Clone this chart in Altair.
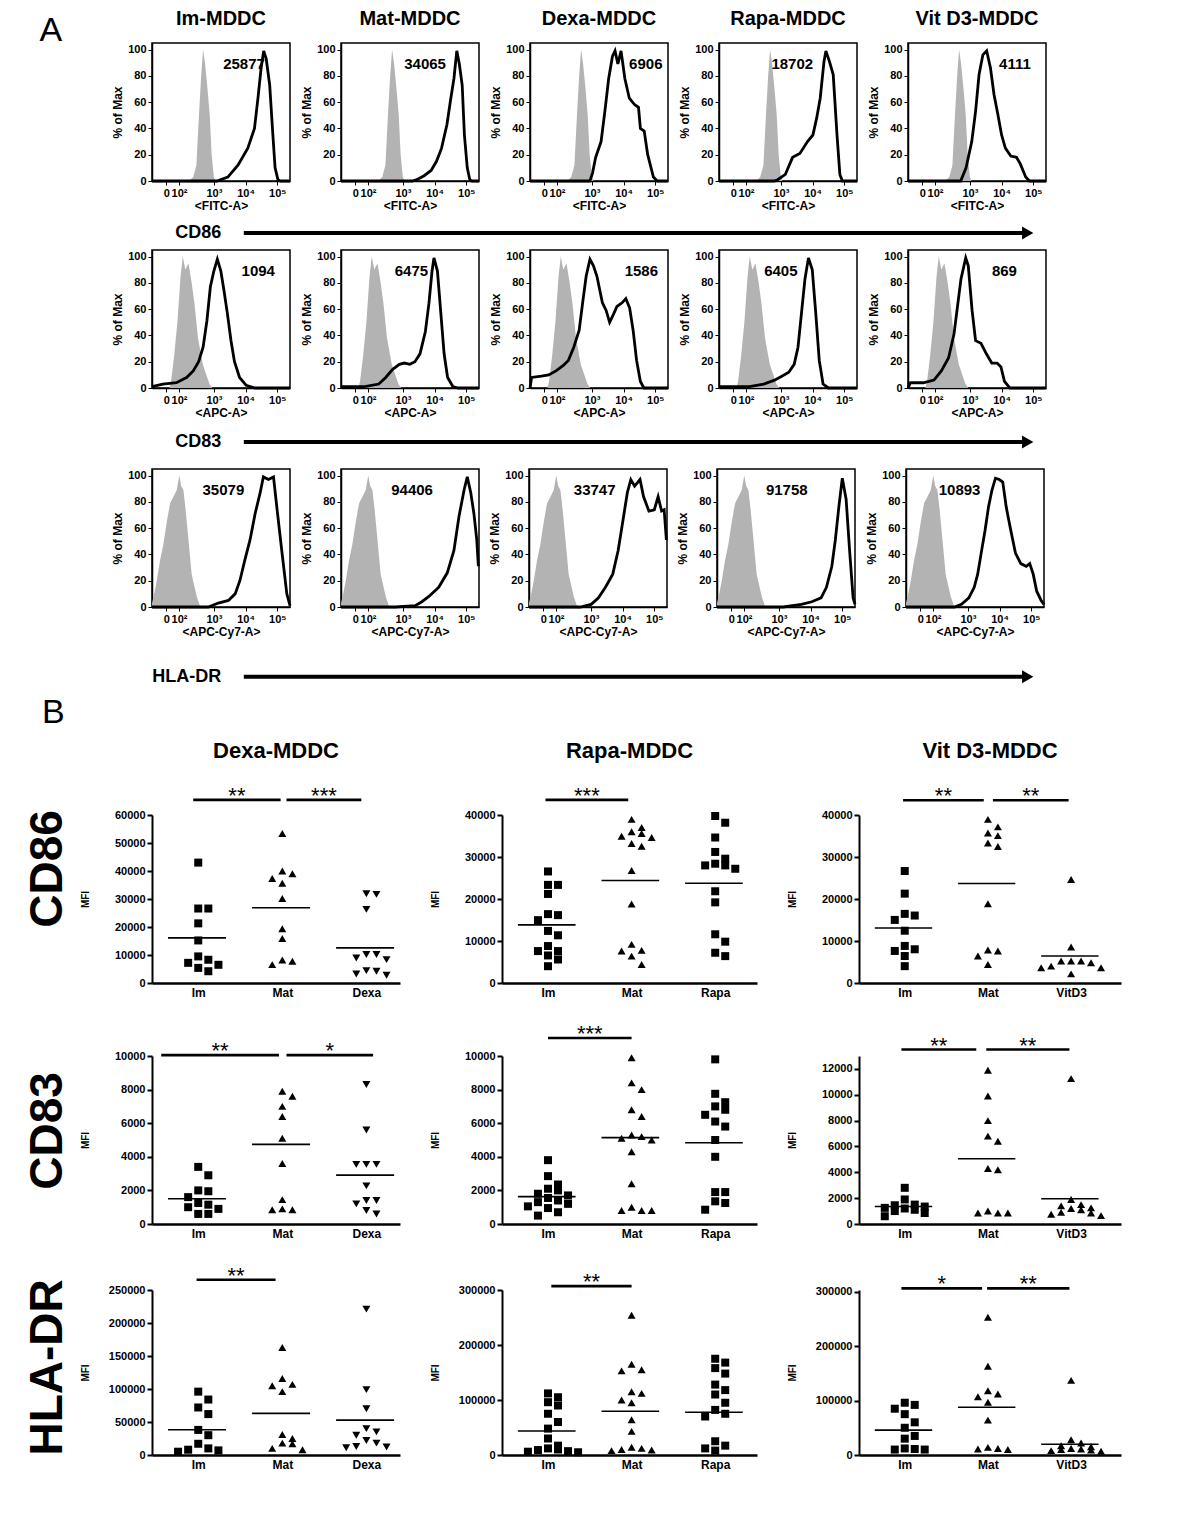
import altair as alt
import pandas as pd

FONT = "Liberation Sans"

# ======================= Panel A : flow-cytometry histograms =======================
# x is in display units of the biexponential axis: 10^3 -> 3, 10^4 -> 4, 10^5 -> 5
HIST_TITLES = ["Im-MDDC", "Mat-MDDC", "Dexa-MDDC", "Rapa-MDDC", "Vit D3-MDDC"]
HIST_XTITLES = ["<FITC-A>", "<APC-A>", "<APC-Cy7-A>"]
ARROW_LABELS = ["CD86", "CD83", "HLA-DR"]
HIST_X_TICKS = [1.5, 1.9, 3, 4, 5]
HIST_X_TICK_LABELS = ["0", "10²", "10³", "10⁴", "10⁵"]
HIST_Y_TICKS = [0, 20, 40, 60, 80, 100]

PEAK_MFI = [
    ["25877", "34065", "6906", "18702", "4111"],
    ["1094", "6475", "1586", "6405", "869"],
    ["35079", "94406", "33747", "91758", "10893"],
]
PEAK_MFI_POS = [
    [3.95, 3.7, 4.7, 3.36, 4.42],
    [4.4, 3.27, 4.56, 3.0, 4.09],
    [3.3, 3.29, 3.12, 3.25, 2.74],
]

# isotype controls (grey filled), one per marker row: [x, % of max]
GRAY_FITC = [[2.22, 0], [2.35, 3], [2.45, 12], [2.53, 50], [2.6, 80], [2.66, 100], [2.72, 90],
             [2.8, 70], [2.87, 50], [2.93, 20], [3.0, 3], [3.05, 0]]
GRAY_APC = [[1.6, 0], [1.65, 5], [1.75, 25], [1.85, 50], [1.95, 85], [2.02, 100], [2.1, 90],
            [2.2, 95], [2.3, 80], [2.39, 64], [2.5, 38], [2.65, 18], [2.86, 3], [2.95, 0]]
GRAY_CY7 = [[1.05, 3], [1.12, 10], [1.2, 20], [1.3, 35], [1.41, 48], [1.51, 64], [1.62, 79],
            [1.75, 85], [1.83, 89], [1.91, 100], [1.97, 92], [2.04, 89], [2.11, 74], [2.2, 51],
            [2.3, 25], [2.46, 8], [2.56, 1], [2.62, 0]]

# stained samples (black lines)
FITC_IM = [[1.05, 0], [3.1, 0], [3.44, 3], [3.76, 12], [4.07, 25], [4.28, 40], [4.39, 63], [4.49, 86],
           [4.57, 99], [4.65, 93], [4.76, 73], [4.86, 35], [4.93, 10], [5.02, 1], [5.1, 0], [5.4, 0]]
FITC_MAT = [[1.05, 0], [3.3, 0], [3.44, 1], [3.67, 4], [3.89, 8], [4.06, 15], [4.22, 25], [4.39, 43],
            [4.5, 61], [4.61, 78], [4.7, 99], [4.78, 89], [4.87, 73], [4.94, 35], [5.03, 10], [5.11, 1],
            [5.17, 0], [5.4, 0]]
FITC_DEXA = [[1.05, 0], [2.94, 0], [3.02, 6], [3.12, 18], [3.29, 30], [3.41, 53], [3.53, 78], [3.65, 95],
             [3.73, 99], [3.82, 89], [3.92, 99], [4.04, 78], [4.18, 63], [4.35, 58], [4.47, 56], [4.53, 40],
             [4.65, 38], [4.76, 20], [4.94, 3], [5.06, 0], [5.4, 0]]
FITC_RAPA = [[1.05, 0], [2.8, 0], [2.9, 1], [3.14, 5], [3.37, 18], [3.6, 21], [3.84, 30], [4.01, 35],
             [4.13, 48], [4.24, 63], [4.36, 91], [4.42, 99], [4.53, 91], [4.65, 81], [4.77, 35], [4.86, 5],
             [4.94, 0], [5.4, 0]]
FITC_VIT = [[1.05, 0], [2.71, 0], [2.88, 10], [3.06, 30], [3.18, 53], [3.29, 81], [3.41, 96], [3.53, 99],
            [3.65, 86], [3.76, 66], [3.88, 51], [4.0, 35], [4.12, 25], [4.29, 19], [4.47, 18], [4.59, 13],
            [4.76, 3], [4.88, 0], [5.4, 0]]

APC_IM = [[1.05, 1], [1.39, 3], [1.82, 4], [2.14, 8], [2.35, 13], [2.52, 20], [2.66, 31], [2.78, 51],
          [2.89, 77], [3.0, 89], [3.11, 98], [3.22, 89], [3.32, 74], [3.43, 56], [3.54, 36], [3.65, 20],
          [3.81, 8], [4.02, 2], [4.29, 0], [5.4, 0]]
APC_MAT = [[1.05, 1], [1.8, 1], [2.24, 3], [2.46, 8], [2.67, 14], [2.89, 18], [3.05, 19], [3.22, 18],
           [3.38, 20], [3.54, 26], [3.71, 43], [3.82, 64], [3.92, 89], [3.98, 99], [4.09, 89], [4.2, 56],
           [4.3, 26], [4.41, 8], [4.58, 1], [4.74, 0], [5.4, 0]]
APC_DEXA = [[1.05, 0], [1.1, 8], [1.41, 9], [1.64, 10], [1.87, 13], [2.09, 17], [2.26, 21], [2.43, 31],
            [2.6, 44], [2.71, 65], [2.82, 85], [2.94, 98], [3.05, 93], [3.16, 85], [3.33, 65], [3.45, 59],
            [3.56, 50], [3.68, 56], [3.79, 62], [3.96, 65], [4.07, 68], [4.19, 61], [4.3, 44], [4.41, 21],
            [4.53, 5], [4.64, 0], [5.4, 0]]
APC_RAPA = [[1.05, 1], [2.01, 1], [2.46, 3], [2.8, 6], [3.03, 9], [3.25, 12], [3.42, 18], [3.54, 31],
            [3.65, 57], [3.76, 83], [3.87, 99], [3.99, 90], [4.1, 57], [4.21, 21], [4.33, 3], [4.5, 0],
            [5.4, 0]]
APC_VIT = [[1.05, 0], [1.13, 4], [1.53, 4], [1.87, 6], [2.1, 13], [2.33, 23], [2.5, 41], [2.61, 62],
           [2.72, 83], [2.87, 99], [2.95, 93], [3.07, 59], [3.18, 36], [3.35, 34], [3.52, 26], [3.69, 19],
           [3.86, 19], [3.98, 16], [4.09, 5], [4.26, 0], [5.4, 0]]

CY7_IM = [[1.05, 0], [2.83, 0], [3.14, 3], [3.46, 5], [3.67, 10], [3.82, 20], [3.98, 36], [4.14, 51],
          [4.3, 71], [4.46, 87], [4.56, 99], [4.72, 97], [4.88, 99], [4.98, 77], [5.14, 43], [5.3, 10],
          [5.4, 1]]
CY7_MAT = [[1.05, 0], [2.76, 0], [3.39, 1], [3.6, 4], [3.82, 8], [4.13, 15], [4.4, 26], [4.61, 43],
           [4.77, 69], [4.93, 89], [5.03, 99], [5.14, 87], [5.24, 71], [5.33, 51], [5.38, 31]]
CY7_DEXA = [[1.05, 0], [2.67, 0], [3.01, 2], [3.24, 7], [3.46, 15], [3.69, 25], [3.86, 43], [3.98, 61],
            [4.15, 87], [4.26, 97], [4.38, 92], [4.55, 97], [4.66, 84], [4.83, 73], [5.0, 74], [5.12, 84],
            [5.23, 73], [5.31, 74], [5.38, 51]]
CY7_RAPA = [[1.05, 0], [3.14, 0], [3.71, 2], [4.04, 4], [4.33, 7], [4.5, 15], [4.67, 31], [4.78, 51],
            [4.89, 76], [5.0, 98], [5.12, 82], [5.23, 43], [5.34, 7], [5.4, 2]]
CY7_VIT = [[1.05, 0], [2.58, 0], [2.8, 2], [3.03, 7], [3.2, 15], [3.31, 25], [3.42, 41], [3.54, 58],
           [3.65, 76], [3.76, 89], [3.87, 98], [3.99, 97], [4.1, 95], [4.21, 76], [4.33, 61], [4.5, 41],
           [4.67, 33], [4.84, 31], [4.95, 33], [5.06, 25], [5.17, 12], [5.31, 5], [5.4, 2]]

GRAYS = [GRAY_FITC, GRAY_APC, GRAY_CY7]
BLACKS = [
    [FITC_IM, FITC_MAT, FITC_DEXA, FITC_RAPA, FITC_VIT],
    [APC_IM, APC_MAT, APC_DEXA, APC_RAPA, APC_VIT],
    [CY7_IM, CY7_MAT, CY7_DEXA, CY7_RAPA, CY7_VIT],
]

# ======================= Panel B : MFI dot plots =======================
B_TITLES = ["Dexa-MDDC", "Rapa-MDDC", "Vit D3-MDDC"]
B_ROW_LABELS = ["CD86", "CD83", "HLA-DR"]
GROUPS = [["Im", "Mat", "Dexa"], ["Im", "Mat", "Rapa"], ["Im", "Mat", "VitD3"]]

CD86_DEXA = [
    [43000, 26600, 26600, 21300, 15200, 9500, 8300, 7200, 6500, 5400, 4200],
    [53400, 40000, 39000, 37300, 35600, 30200, 19350, 15900, 8240, 7770, 6570],
    [31900, 31660, 26300, 10160, 10160, 8960, 8360, 4420, 4180, 3230, 2750],
]
CD86_RAPA = [
    [26560, 23360, 23360, 21200, 16400, 16160, 14960, 12400, 11360, 8800, 7600, 7600, 6560, 5600, 4000],
    [38960, 37040, 36000, 35600, 34960, 34640, 33200, 32560, 26800, 18800, 9200, 7760, 7600, 6400, 4400],
    [39760, 38160, 34640, 31200, 29600, 28400, 28000, 28000, 27200, 21840, 19200, 11600, 9840, 7200, 6400],
]
CD86_VIT = [
    [26660, 21280, 16460, 16060, 15020, 12450, 8830, 8030, 7630, 6420, 4010],
    [38950, 37180, 35730, 35090, 33320, 32520, 18870, 7870, 7630, 6420, 4420],
    [24650, 8590, 5220, 5220, 5220, 4820, 4015, 3610, 3610, 2170],
]
CD83_DEXA = [
    [3400, 2900, 2000, 1950, 1600, 1250, 1150, 1000, 900, 600, 600],
    [7900, 7600, 7000, 6400, 5100, 3600, 1450, 900, 850, 850],
    [8300, 5600, 3550, 3550, 3550, 2270, 1400, 1400, 1200, 800, 600],
]
CD83_RAPA = [
    [3800, 2850, 2350, 2100, 2000, 1800, 1700, 1550, 1400, 1300, 1200, 1050, 950, 700, 500],
    [9900, 8400, 8000, 6800, 6400, 5300, 5200, 5100, 5000, 4300, 2400, 1000, 800, 800, 800],
    [9800, 7750, 7250, 7000, 6800, 6500, 6100, 5800, 5000, 4000, 1900, 1900, 1350, 1250, 850],
]
CD83_VIT = [
    [2800, 1900, 1500, 1450, 1350, 1250, 1200, 1100, 1000, 850, 600],
    [11900, 9900, 8000, 6800, 6400, 4300, 4200, 1000, 850, 850, 850],
    [11250, 1900, 1500, 1400, 1250, 1200, 1100, 900, 850, 750, 650],
]
HLA_DEXA = [
    [96000, 84000, 72000, 62000, 38000, 30000, 17000, 10000, 8000, 7000, 5000],
    [163000, 116000, 107000, 105000, 96000, 31000, 25000, 18000, 17000, 10000, 8000],
    [221000, 99000, 70000, 40000, 35000, 30000, 22000, 18000, 13000, 12000, 11000],
]
HLA_RAPA = [
    [112000, 105000, 96000, 90000, 75000, 60000, 48000, 30000, 17000, 12000, 10000, 9000, 7000, 6000, 5000],
    [254000, 165000, 155000, 153000, 115000, 112000, 100000, 95000, 64000, 43000, 14000, 12000, 10000, 9000, 8000],
    [175000, 168000, 158000, 148000, 128000, 118000, 110000, 95000, 82000, 75000, 70000, 25000, 17000, 12000, 8000],
]
HLA_VIT = [
    [96000, 92000, 85000, 75000, 60000, 50000, 35000, 30000, 12000, 11000, 10000, 10000],
    [253000, 163000, 118000, 112000, 107000, 97000, 64000, 14000, 12000, 11000, 10000],
    [137000, 28000, 22000, 17000, 15000, 12000, 11000, 10000, 9000, 8000, 7000],
]
DOT_DATA = [[CD86_DEXA, CD86_RAPA, CD86_VIT],
            [CD83_DEXA, CD83_RAPA, CD83_VIT],
            [HLA_DEXA, HLA_RAPA, HLA_VIT]]

# horizontal mean lines
DOT_MEANS = [
    [[16130, 26900, 12540], [13840, 24400, 23760], [13090, 23690, 6420]],
    [[1506, 4739, 2912], [1627, 5140, 4840], [1354, 5052, 1953]],
    [[38300, 63100, 52800], [43600, 79500, 77700], [45600, 87600, 19800]],
]
# significance bars: [from, to, level, stars]
DOT_SIG = [
    [[[-0.06, 0.98, 65400, "**"], [1.05, 1.94, 65400, "***"]],
     [[-0.03, 0.96, 43600, "***"]],
     [[-0.02, 0.95, 43500, "**"], [1.06, 1.97, 43500, "**"]]],
    [[[-0.44, 0.96, 10050, "**"], [1.05, 2.08, 10050, "*"]],
     [[0.0, 1.0, 11070, "***"]],
     [[-0.04, 0.86, 13500, "**"], [0.98, 1.98, 13500, "**"]]],
    [[[-0.02, 0.92, 265500, "**"]],
     [[0.04, 1.0, 307000, "**"]],
     [[-0.04, 0.93, 306000, "*"], [0.99, 1.98, 306000, "**"]]],
]
DOT_YMAX = [[60000, 40000, 40000], [10000, 10000, 13000], [250000, 300000, 303000]]
DOT_YTICKS = [
    [list(range(0, 60001, 10000)), list(range(0, 40001, 10000)), list(range(0, 40001, 10000))],
    [list(range(0, 10001, 2000)), list(range(0, 10001, 2000)), list(range(0, 12001, 2000))],
    [list(range(0, 250001, 50000)), list(range(0, 300001, 100000)), list(range(0, 300001, 100000))],
]

# ----------------------- layout / style constants -----------------------
HIST_W, HIST_H = 138, 138
HIST_SPACING = 2
ARROW_W = 900
ARROW_LABEL_END, ARROW_START, ARROW_END = 0.077, 0.102, 0.973
ARROW_GEOM = [(37, 0.43), (49, 0.53), (57, 0.32)]
DOT_W = [248, 255, 262]
DOT_XMAX = [2.4, 2.5, 2.6]
DOT_H = [168, 168, 165]
MEAN_LEFT, MEAN_RIGHT = -0.36, 0.33
JIT_STEP = 0.12


def unzip(pairs):
    return [p[0] for p in pairs], [p[1] for p in pairs]


def label_expr(values, labels):
    expr = "''"
    for v, l in reversed(list(zip(values, labels))):
        expr = f"datum.value == {v} ? '{l}' : {expr}"
    return expr


def jitter(values, ymax, h, gap_px=8.5):
    order = sorted(range(len(values)), key=lambda i: -values[i])
    pattern = [0, 1, -1, 2, -2, 3, -3]
    offs = [0.0] * len(values)
    top, k = None, 0
    for i in order:
        px = values[i] / ymax * h
        if top is None or top - px > gap_px:
            top, k = px, 0
        else:
            k += 1
        offs[i] = pattern[k % len(pattern)] * JIT_STEP
    return offs


def hist_panel(r, c):
    bu, by = unzip(BLACKS[r][c])
    gu, gy = unzip(GRAYS[r])
    xs = alt.Scale(domain=[1.05, 5.4], nice=False, zero=False)
    ys = alt.Scale(domain=[0, 105], nice=False)
    xa = alt.Axis(values=HIST_X_TICKS, labelExpr=label_expr(HIST_X_TICKS, HIST_X_TICK_LABELS),
                  labelOverlap=False, labelFlush=False, title=HIST_XTITLES[r],
                  titleFontSize=12, titleFontWeight="bold", titlePadding=2, titleColor="black",
                  labelFontSize=11, labelFontWeight="bold", labelPadding=2, labelColor="black",
                  tickSize=4, tickColor="black", domainColor="black", domainWidth=1.5, grid=False)
    ya = alt.Axis(values=HIST_Y_TICKS, title="% of Max", titleFontSize=12, titleFontWeight="bold",
                  titlePadding=3, titleColor="black", labelFontSize=11, labelFontWeight="bold",
                  labelPadding=2, labelColor="black", tickSize=4, tickColor="black",
                  domainColor="black", domainWidth=1.5, grid=False)

    def X():
        return alt.X("u:Q", scale=xs, axis=xa)

    def Y():
        return alt.Y("pct:Q", scale=ys, axis=ya)

    gray = alt.Chart(pd.DataFrame({"u": gu, "pct": gy})).mark_area(
        color="#b3b3b3", opacity=1).encode(x=X(), y=Y())
    line = alt.Chart(pd.DataFrame({"u": bu, "pct": by})).mark_line(
        color="black", strokeWidth=2.8).encode(x=X(), y=Y())
    txt = alt.Chart(pd.DataFrame({"u": [PEAK_MFI_POS[r][c]], "pct": [89],
                                  "t": [PEAK_MFI[r][c]]})).mark_text(
        fontSize=15, fontWeight="bold", color="black").encode(x=X(), y=Y(), text="t:N")
    ch = alt.layer(gray, line, txt).properties(
        width=HIST_W, height=HIST_H,
        view=alt.ViewBackground(stroke="black", strokeWidth=1.5))
    if r == 0:
        ch = ch.properties(title=alt.TitleParams(HIST_TITLES[c], fontSize=20, fontWeight="bold",
                                                 offset=14, anchor="middle", frame="group",
                                                 color="black"))
    return ch


def arrow(i):
    h, ypos = ARROW_GEOM[i]
    df = pd.DataFrame({"label": [ARROW_LABELS[i]], "lx": [ARROW_LABEL_END], "x0": [ARROW_START],
                       "x1": [ARROW_END], "y": [ypos]})
    xs = alt.Scale(domain=[0, 1], nice=False, zero=False)
    ys = alt.Scale(domain=[0, 1], nice=False)
    base = alt.Chart(df)
    rule = base.mark_rule(color="black", strokeWidth=4).encode(
        x=alt.X("x0:Q", scale=xs, axis=None), x2="x1:Q", y=alt.Y("y:Q", scale=ys, axis=None))
    head = base.mark_point(shape="triangle-right", filled=True, size=170, color="black",
                           opacity=1).encode(
        x=alt.X("x1:Q", scale=xs, axis=None), y=alt.Y("y:Q", scale=ys, axis=None))
    text = base.mark_text(align="right", baseline="middle", fontSize=18, fontWeight="bold",
                          color="black").encode(
        x=alt.X("lx:Q", scale=xs, axis=None), y=alt.Y("y:Q", scale=ys, axis=None), text="label:N")
    return alt.layer(rule, head, text).properties(width=ARROW_W, height=h)


def dot_panel(r, c):
    groups = DOT_DATA[r][c]
    names = GROUPS[c]
    ymax, h, w = DOT_YMAX[r][c], DOT_H[r], DOT_W[c]
    pts = []
    for g, vals in enumerate(groups):
        for v, o in zip(vals, jitter(vals, ymax, h)):
            pts.append({"xp": g + o, "v": v, "grp": names[g]})
    means = pd.DataFrame({"x1": [g + MEAN_LEFT for g in range(3)],
                          "x2": [g + MEAN_RIGHT for g in range(3)],
                          "v": DOT_MEANS[r][c]})
    sig = pd.DataFrame([{"x1": s[0], "x2": s[1], "v": s[2], "xm": (s[0] + s[1]) / 2, "lab": s[3]}
                        for s in DOT_SIG[r][c]])
    xs = alt.Scale(domain=[-0.55, DOT_XMAX[c]], nice=False, zero=False)
    ys = alt.Scale(domain=[0, ymax], nice=False)
    xa = alt.Axis(values=[0, 1, 2], labelExpr=label_expr([0, 1, 2], names), ticks=False,
                  domainWidth=2.5, domainColor="black", labelFontSize=12, labelFontWeight="bold",
                  labelColor="black", labelPadding=4, title=None, grid=False)
    ya = alt.Axis(values=DOT_YTICKS[r][c], format="d", title="MFI", titleX=-62, titleY=h / 2,
                  titleAngle=270, titleAlign="center", titleBaseline="bottom",
                  titleFontSize=10, titleFontWeight="bold", titleColor="black",
                  labelFontSize=11, labelFontWeight="bold", labelColor="black", labelPadding=2,
                  tickSize=5, tickWidth=2, tickColor="black", domainWidth=2, domainColor="black",
                  grid=False)

    def X(f):
        return alt.X(f, scale=xs, axis=xa)

    def Y():
        return alt.Y("v:Q", scale=ys, axis=ya)

    points = alt.Chart(pd.DataFrame(pts)).mark_point(filled=True, size=64, opacity=1).encode(
        x=X("xp:Q"), y=Y(), color=alt.value("black"),
        shape=alt.Shape("grp:N", scale=alt.Scale(domain=names,
                                                 range=["square", "triangle-up", "triangle-down"]),
                        legend=None))
    mean_rule = alt.Chart(means).mark_rule(color="black", strokeWidth=1.6).encode(
        x=X("x1:Q"), x2="x2:Q", y=Y())
    sig_rule = alt.Chart(sig).mark_rule(color="black", strokeWidth=2.6).encode(
        x=X("x1:Q"), x2="x2:Q", y=Y())
    stars = alt.Chart(sig).mark_text(fontSize=22, baseline="alphabetic", dy=3,
                                     color="black").encode(x=X("xm:Q"), y=Y(), text="lab:N")
    ch = alt.layer(mean_rule, points, sig_rule, stars).properties(width=w, height=h)
    if r == 0:
        ch = ch.properties(title=alt.TitleParams(B_TITLES[c], fontSize=22, fontWeight="bold",
                                                 offset=22, anchor="middle", frame="group",
                                                 color="black"))
    return ch


# ----------------------- assemble -----------------------
rows_a = []
for r in range(3):
    rows_a.append(alt.hconcat(*[hist_panel(r, c) for c in range(5)], spacing=HIST_SPACING))
    rows_a.append(arrow(r))
section_a = alt.vconcat(*rows_a, spacing=0).properties(
    title=alt.TitleParams("A", orient="left", angle=0, anchor="end", align="right",
                          baseline="top", fontSize=34, fontWeight="normal", offset=26, dy=6,
                          color="black"))

rows_b = []
for r in range(3):
    row = alt.hconcat(*[dot_panel(r, c) for c in range(3)], spacing=30).properties(
        title=alt.TitleParams(B_ROW_LABELS[r], orient="left", fontSize=46, fontWeight="bold",
                              anchor="middle", offset=8, color="black"))
    rows_b.append(row)
section_b = alt.vconcat(*rows_b, spacing=25).properties(
    title=alt.TitleParams("B", fontSize=34, fontWeight="normal", anchor="start", offset=10, dx=17,
                          color="black"))

chart = alt.vconcat(section_a, section_b, spacing=0).properties(
    padding={"left": 17, "top": 0, "right": 5, "bottom": 5}
).configure(font=FONT).configure_view(stroke=None)

chart.save("out.html", embed_options={"renderer": "svg", "actions": False})
